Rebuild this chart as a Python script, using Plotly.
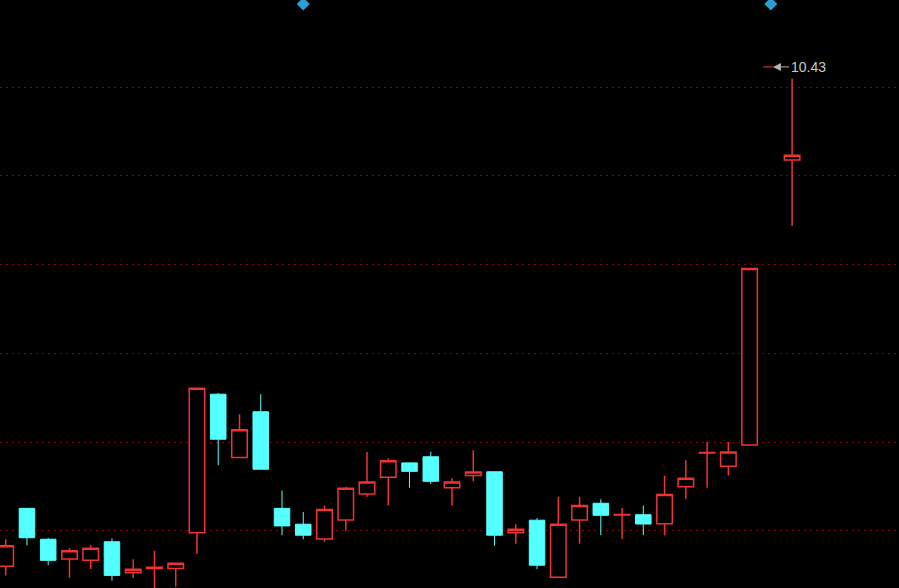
import plotly.graph_objects as go

# daily candles, slot 36 is a non-trading day (no data)
slots = list(range(38))
opens = [8.123, 8.397, 8.251, 8.157, 8.151, 8.239, 8.093, 8.112, 8.112, 8.282,
         8.937, 8.637, 8.854, 8.397, 8.322, 8.252, 8.342, 8.465, 8.544, 8.612,
         8.641, 8.495, 8.553, 8.570, 8.282, 8.341, 8.071, 8.342, 8.421, 8.366,
         8.367, 8.324, 8.499, 8.659, 8.596, 8.697, None, 10.045]
highs = [8.251, 8.397, 8.257, 8.208, 8.222, 8.255, 8.156, 8.197, 8.137, 8.965,
         8.943, 8.842, 8.937, 8.481, 8.380, 8.410, 8.498, 8.664, 8.634, 8.612,
         8.665, 8.539, 8.672, 8.570, 8.322, 8.351, 8.452, 8.452, 8.440, 8.399,
         8.411, 8.551, 8.624, 8.711, 8.711, 9.531, None, 10.43]
lows = [8.080, 8.222, 8.128, 8.069, 8.110, 8.055, 8.068, 8.000, 8.026, 8.181,
        8.601, 8.637, 8.582, 8.270, 8.251, 8.239, 8.291, 8.452, 8.411, 8.495,
        8.512, 8.411, 8.525, 8.220, 8.230, 8.110, 8.071, 8.230, 8.270, 8.252,
        8.270, 8.270, 8.441, 8.495, 8.553, 8.697, None, 9.733]
closes = [8.220, 8.258, 8.151, 8.197, 8.208, 8.080, 8.109, 8.118, 8.137, 8.965,
          8.724, 8.769, 8.582, 8.314, 8.270, 8.392, 8.492, 8.522, 8.622, 8.572,
          8.525, 8.522, 8.569, 8.270, 8.298, 8.128, 8.322, 8.410, 8.364, 8.368,
          8.323, 8.462, 8.539, 8.661, 8.664, 9.531, None, 10.067]

# signal markers shown at the top edge
signal_slots = [14, 36]

# horizontal reference levels
grid_levels = [8.29, 8.71, 9.13, 9.55, 9.97, 10.39]

RED = '#f03232'
CYAN = '#54ffff'
y_range = [8.0203, 10.8015]
x_range = [-0.268, 42.03]

fig = go.Figure()

fig.add_trace(go.Candlestick(
    x=slots, open=opens, high=highs, low=lows, close=closes,
    increasing=dict(line=dict(color=RED, width=1.5), fillcolor='#000000'),
    decreasing=dict(line=dict(color=CYAN, width=1), fillcolor=CYAN),
    whiskerwidth=0, hoverinfo='skip', showlegend=False,
))

fig.add_trace(go.Scatter(
    x=signal_slots, y=[y_range[1] - 0.019] * len(signal_slots),
    mode='markers', marker=dict(symbol='diamond', size=10, color='#2a9fd6'),
    hoverinfo='skip', showlegend=False, cliponaxis=False,
))

# highest price label with arrow
top = max(h for h in highs if h is not None)
top_slot = slots[highs.index(top)]
tip_x = top_slot - 0.9
tip_y = top + 0.055
fig.add_shape(type='line', x0=tip_x - 0.47, x1=tip_x, y0=tip_y, y1=tip_y,
              line=dict(color=RED, width=1))
fig.add_annotation(
    x=tip_x, y=tip_y, text=f"{top:.2f}", showarrow=True,
    ax=16, ay=0, xanchor='left', yanchor='middle',
    arrowcolor='#b4b4b4', arrowwidth=1, arrowhead=2, arrowsize=1.6,
    font=dict(family='Liberation Sans, Arial', size=14, color='#c8c8c8'),
)

fig.update_layout(
    width=899, height=588,
    paper_bgcolor='#000000', plot_bgcolor='#000000',
    margin=dict(l=0, r=0, t=0, b=0),
    boxgap=0.27, boxgroupgap=0,
    xaxis=dict(range=x_range, showgrid=False, zeroline=False, showticklabels=False,
               rangeslider=dict(visible=False), fixedrange=True),
    yaxis=dict(range=y_range, tickvals=grid_levels, showgrid=True, gridcolor='#8c0000',
               griddash='2px,4px', gridwidth=1, zeroline=False, showticklabels=False,
               fixedrange=True),
)

# page has a default body margin; remove it so the chart fills the window
fig.write_html("out.html", config={'displayModeBar': False},
               post_script="document.body.style.margin='0';"
                           "document.body.style.background='#000';"
                           "document.body.style.overflow='hidden';")
